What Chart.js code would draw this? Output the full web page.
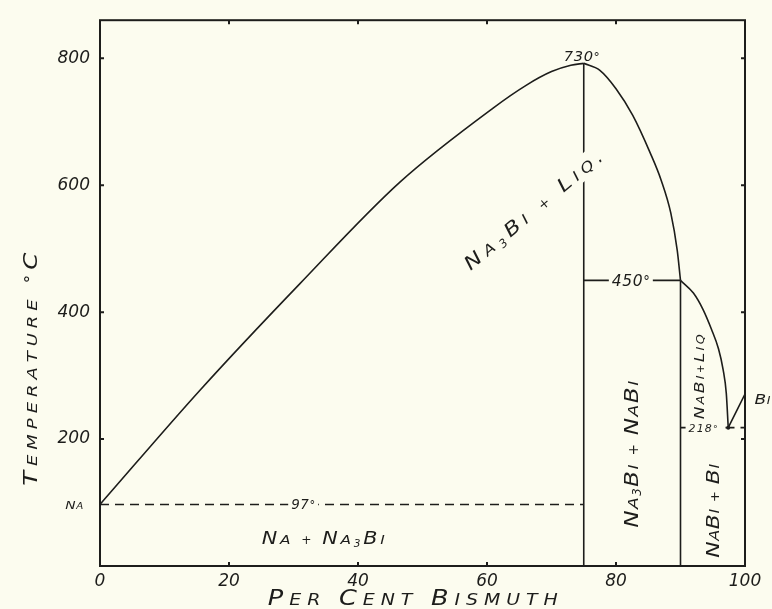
<!doctype html>
<html>
<head>
<meta charset="utf-8">
<title>Na - Bi</title>
<script src="https://cdn.jsdelivr.net/npm/chart.js"></script>
<style>
  html, body { margin: 0; padding: 0; background: #fcfcef; }
  canvas { display: block; }
</style>
</head>
<body>
<canvas id="diagrama" width="772" height="609"></canvas>
<script>
// x = per cent bismuth, y = temperatura °C
const liqNaX = [0, 15.5, 31, 46.5, 61, 66, 70, 73, 75];
const liqNaY = [97, 277, 445, 605, 722, 757, 779, 789, 792];
const liqNa3BiX = [75, 77.5, 80, 82.6, 85.3, 87, 88.5, 89.5, 90];
const liqNa3BiY = [792, 781, 752, 710, 651, 608, 556, 497, 450];
const liqNaBiX = [90, 92, 93.5, 94.8, 95.9, 96.6, 97.1, 97.4];
const liqNaBiY = [450, 430, 404, 373, 342, 310, 272, 218];
const liqBiX = [97.4, 100];
const liqBiY = [218, 271];
const na3biX = [75, 75], na3biY = [0, 792];
const nabiX = [90, 90], nabiY = [0, 450];
const peritX = [75, 90], peritY = [450, 450];
const eutNaX = [0, 75], eutNaY = [97, 97];
const eutBiX = [90, 100], eutBiY = [218, 218];
const xTicks = [0, 20, 40, 60, 80, 100];
const yTicks = [200, 400, 600, 800];

const fundo = '#fcfcef';
const tinta = '#1d1d1b';
const fonte = '"DejaVu Sans"';

function pontos(xs, ys) {
  return xs.map((x, i) => ({ x: x, y: ys[i] }));
}

function linha(xs, ys, tracejado) {
  return {
    data: pontos(xs, ys),
    showLine: true,
    borderColor: tinta,
    borderWidth: 1.6,
    borderDash: tracejado ? [9, 6] : [],
    pointRadius: 0,
    cubicInterpolationMode: 'monotone',
    fill: false
  };
}

// rotulos: posicao em coordenadas do grafico
const rotulos = [
  { t: '730°', x: 74.7, y: 804, size: 15, w: 36 },
  { t: 'Na₃Bi + Liq.', x: 67.1, y: 561, size: 19, w: 174, rot: -40, apagar: true },
  { t: 'Na + Na₃Bi', x: 34.6, y: 45, size: 17, w: 123 },
  { t: '97°', x: 31.5, y: 97, size: 14, w: 24, apagar: true },
  { t: '450°', x: 82.3, y: 450, size: 16, w: 38, apagar: true },
  { t: '218°', x: 93.5, y: 218, size: 11, w: 29, apagar: true },
  { t: 'NaBi+Liq', x: 92.9, y: 298, size: 14, w: 85, rot: -90 },
  { t: 'Na₃Bi + NaBi', x: 82.3, y: 176, size: 19, w: 147, rot: -90 },
  { t: 'NaBi + Bi', x: 95, y: 87, size: 19, w: 94, rot: -90 },
  { t: 'Na', x: -4.0, y: 97, size: 14, w: 18 },
  { t: 'Bi', x: 102.7, y: 263, size: 16, w: 16 }
];

const largo = 1.22;

function pedacos(texto, size) {
  const out = [];
  for (const ch of texto) {
    if (ch === '₃') out.push({ c: '3', s: size * 0.62, dy: size * 0.2, k: 1 });
    else if (ch >= 'a' && ch <= 'z') out.push({ c: ch.toUpperCase(), s: size * 0.74, dy: 0, k: largo });
    else if (ch >= 'A' && ch <= 'Z') out.push({ c: ch, s: size, dy: 0, k: largo });
    else if (ch === '+') out.push({ c: ch, s: size * 0.72, dy: 0, k: 1 });
    else if (ch === '°') out.push({ c: ch, s: size * 0.85, dy: 0, k: 1 });
    else out.push({ c: ch, s: size, dy: 0, k: 1 });
  }
  return out;
}

function medir(ctx, ps) {
  let nat = 0;
  ps.forEach(p => {
    ctx.font = 'italic ' + p.s + 'px ' + fonte;
    p.w = ctx.measureText(p.c).width * p.k;
    nat += p.w;
  });
  return nat;
}

function escrever(ctx, texto, x, y, size, largura, rot, apagar) {
  let ps = pedacos(texto, size);
  let nat = medir(ctx, ps);
  const folga = 0.6 * (ps.length - 1);
  if (largura && nat + folga > largura) {
    size = size * (largura - folga) / nat;
    ps = pedacos(texto, size);
    nat = medir(ctx, ps);
  }
  const total = largura || nat;
  const esp = ps.length > 1 ? (total - nat) / (ps.length - 1) : 0;
  ctx.save();
  ctx.translate(x, y);
  ctx.rotate((rot || 0) * Math.PI / 180);
  if (apagar) {
    ctx.fillStyle = fundo;
    ctx.fillRect(-total / 2 - 3, -size * 0.6, total + 6, size * 1.2);
  }
  ctx.fillStyle = tinta;
  ctx.textBaseline = 'alphabetic';
  let cx = -total / 2;
  ps.forEach(p => {
    ctx.save();
    ctx.translate(cx, size * 0.36 + p.dy);
    ctx.scale(p.k, 1);
    ctx.font = 'italic ' + p.s + 'px ' + fonte;
    ctx.fillText(p.c, 0, 0);
    ctx.restore();
    cx += p.w + esp;
  });
  ctx.restore();
}

const moldura = {
  id: 'moldura',
  beforeDraw(chart) {
    const ctx = chart.ctx;
    ctx.save();
    ctx.fillStyle = fundo;
    ctx.fillRect(0, 0, chart.width, chart.height);
    ctx.restore();
  },
  afterDraw(chart) {
    const ctx = chart.ctx;
    const a = chart.chartArea;
    const sx = chart.scales.x, sy = chart.scales.y;

    rotulos.forEach(r => {
      escrever(ctx, r.t, sx.getPixelForValue(r.x), sy.getPixelForValue(r.y), r.size, r.w, r.rot, r.apagar);
    });

    // titulos dos eixos
    escrever(ctx, 'Temperature °C', a.left - 70, sy.getPixelForValue(310), 20, 233, -90);
    escrever(ctx, 'Per Cent Bismuth', sx.getPixelForValue(48.5), a.bottom + 31, 21, 290, 0);

    ctx.save();
    ctx.strokeStyle = tinta;
    ctx.lineWidth = 2;
    ctx.strokeRect(a.left, a.top, a.right - a.left, a.bottom - a.top);
    sx.ticks.forEach(t => {
      if (t.value <= 0 || t.value >= 100) return;
      const px = sx.getPixelForValue(t.value);
      ctx.beginPath();
      ctx.moveTo(px, a.bottom); ctx.lineTo(px, a.bottom - 4);
      ctx.moveTo(px, a.top); ctx.lineTo(px, a.top + 4);
      ctx.stroke();
    });
    sy.ticks.forEach(t => {
      const py = sy.getPixelForValue(t.value);
      ctx.beginPath();
      ctx.moveTo(a.left, py); ctx.lineTo(a.left + 4, py);
      ctx.moveTo(a.right, py); ctx.lineTo(a.right - 4, py);
      ctx.stroke();
    });
    // ponto eutetico
    ctx.fillStyle = tinta;
    ctx.beginPath();
    ctx.arc(sx.getPixelForValue(liqBiX[0]), sy.getPixelForValue(liqBiY[0]), 2, 0, Math.PI * 2);
    ctx.fill();
    ctx.restore();
  }
};

const fonteTicks = { family: 'DejaVu Sans', size: 17, style: 'italic' };

new Chart(document.getElementById('diagrama').getContext('2d'), {
  type: 'scatter',
  data: {
    datasets: [
      linha(liqNaX, liqNaY),
      linha(liqNa3BiX, liqNa3BiY),
      linha(liqNaBiX, liqNaBiY),
      linha(liqBiX, liqBiY),
      linha(na3biX, na3biY),
      linha(nabiX, nabiY),
      linha(peritX, peritY),
      linha(eutNaX, eutNaY, true),
      linha(eutBiX, eutBiY, true)
    ]
  },
  options: {
    responsive: false,
    animation: false,
    layout: { padding: { left: 0, right: 27, top: 14, bottom: 0 } },
    plugins: { legend: { display: false }, tooltip: { enabled: false } },
    scales: {
      x: {
        type: 'linear',
        min: 0,
        max: 100,
        grid: { display: false, drawTicks: false },
        border: { display: false },
        afterBuildTicks: s => { s.ticks = xTicks.map(v => ({ value: v })); },
        afterFit: s => { s.height = 43; },
        ticks: { color: tinta, font: fonteTicks, padding: 5, maxRotation: 0 }
      },
      y: {
        type: 'linear',
        min: 0,
        max: 860,
        grid: { display: false, drawTicks: false },
        border: { display: false },
        afterBuildTicks: s => { s.ticks = yTicks.map(v => ({ value: v })); },
        afterFit: s => { s.width = 100; },
        ticks: { color: tinta, font: fonteTicks, padding: 10 }
      }
    }
  },
  plugins: [moldura]
});
</script>
</body>
</html>
